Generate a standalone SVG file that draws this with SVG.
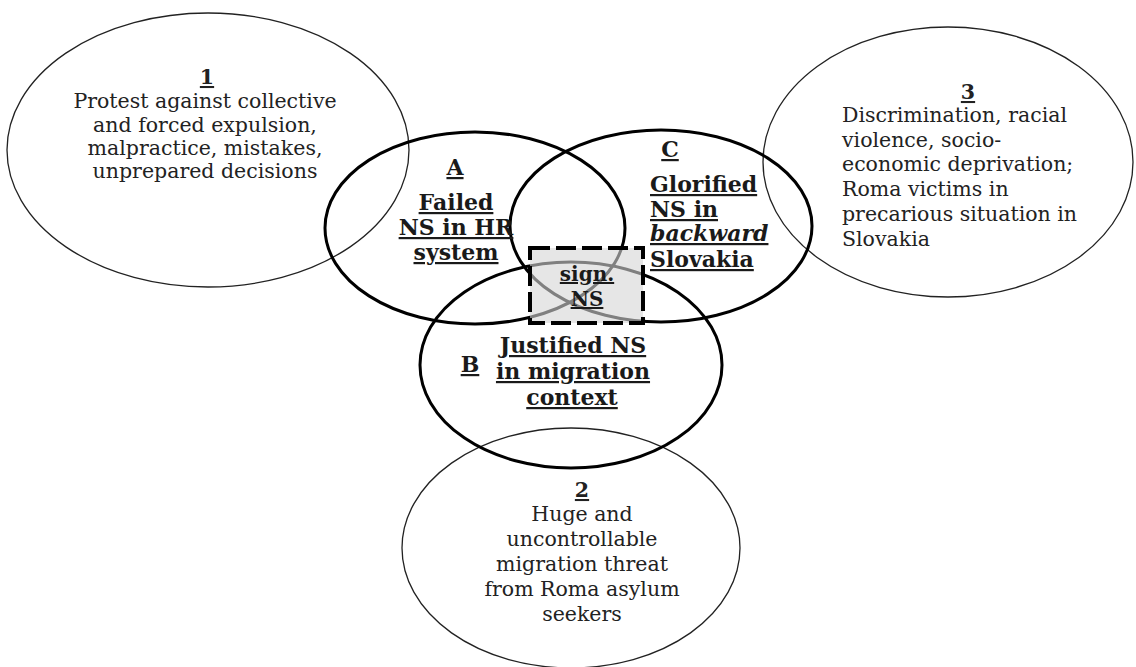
<svg xmlns="http://www.w3.org/2000/svg" width="1136" height="667" viewBox="0 0 1136 667">
<style>
.thin{fill:none;stroke:#222;stroke-width:1.3}
.thick{fill:none;stroke:#000;stroke-width:3}
.t{font-family:"DejaVu Serif","Liberation Serif",serif;font-size:20.5px;fill:#222}
.n{font-weight:bold;text-decoration:underline}
.b{font-family:"DejaVu Serif","Liberation Serif",serif;font-size:22px;font-weight:bold;fill:#1a1a1a;text-decoration:underline}
.s{font-size:20px}
.m{text-anchor:middle}
</style>
<rect width="1136" height="667" fill="#fff"/>
<g id="shapes">
<ellipse class="thin" cx="208" cy="150" rx="201" ry="137"/>
<ellipse class="thin" cx="948" cy="162" rx="185" ry="135"/>
<ellipse class="thin" cx="571" cy="548" rx="169" ry="120"/>
<ellipse class="thick" cx="475" cy="228" rx="150" ry="96"/>
<ellipse class="thick" cx="661" cy="226" rx="151" ry="96"/>
<ellipse class="thick" cx="571" cy="365" rx="151" ry="103"/>
</g>
<g id="node1">
<text class="t m n" x="207" y="84">1</text>
<text class="t m" x="205" y="108">Protest against collective</text>
<text class="t m" x="205" y="132">and forced expulsion,</text>
<text class="t m" x="205" y="155">malpractice, mistakes,</text>
<text class="t m" x="205" y="178">unprepared decisions</text>
</g>
<g id="node3">
<text class="t m n" x="968" y="99">3</text>
<text class="t" x="842" y="122">Discrimination, racial</text>
<text class="t" x="842" y="147">violence, socio-</text>
<text class="t" x="842" y="171">economic deprivation;</text>
<text class="t" x="842" y="196">Roma victims in</text>
<text class="t" x="842" y="221">precarious situation in</text>
<text class="t" x="842" y="246">Slovakia</text>
</g>
<g id="node2">
<text class="t m n" x="582" y="497">2</text>
<text class="t m" x="582" y="521">Huge and</text>
<text class="t m" x="582" y="546">uncontrollable</text>
<text class="t m" x="582" y="571">migration threat</text>
<text class="t m" x="582" y="596">from Roma asylum</text>
<text class="t m" x="582" y="621">seekers</text>
</g>
<g id="nodeA">
<text class="b m" x="455" y="175">A</text>
<text class="b m" x="456" y="210">Failed</text>
<text class="b m" x="456" y="235">NS in HR</text>
<text class="b m" x="456" y="260">system</text>
</g>
<g id="nodeC">
<text class="b m" x="670" y="157">C</text>
<text class="b" x="650" y="192">Glorified</text>
<text class="b" x="650" y="217">NS in</text>
<text class="b" x="650" y="241" font-style="italic">backward</text>
<text class="b" x="650" y="267">Slovakia</text>
</g>
<g id="nodeB">
<text class="b m" x="470" y="372">B</text>
<text class="b m" x="573" y="353">Justified NS</text>
<text class="b m" x="573" y="379">in migration</text>
<text class="b m" x="572" y="405">context</text>
</g>
<g id="nodeSign">
<rect x="530" y="248" width="113" height="75" fill="#d6d6d6" fill-opacity="0.6"/>
<rect x="530" y="248" width="113" height="75" fill="none" stroke="#000" stroke-width="4" stroke-dasharray="20 6"/>
<text class="b s m" x="587" y="281">sign.</text>
<text class="b s m" x="587" y="306">NS</text>
</g>
</svg>
